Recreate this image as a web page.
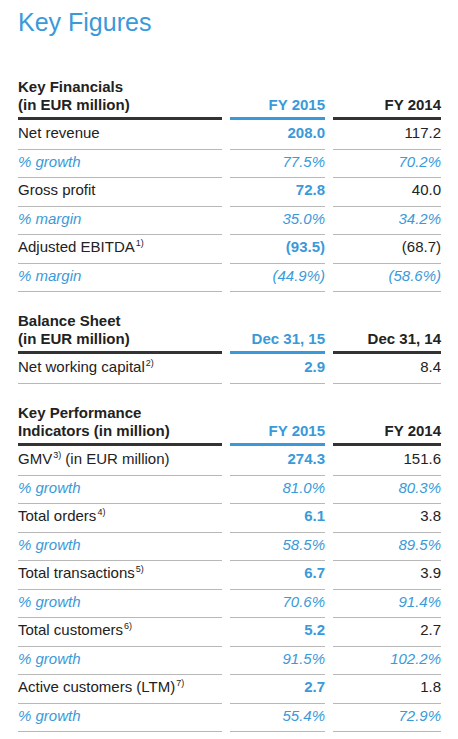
<!DOCTYPE html>
<html><head><meta charset="utf-8">
<script src="https://cdn.jsdelivr.net/npm/chart.js@4.4.1/dist/chart.umd.min.js"></script>
<style>
body{margin:0;background:#fff;font-family:"Liberation Sans",Arial,sans-serif;color:#222;}
#wrap{position:relative;width:458px;height:739px;}
.t{position:absolute;left:18px;top:8px;font-size:25px;color:#3a9ad9;}
.c{position:absolute;font-size:15px;white-space:nowrap;line-height:18px;height:18px;}
.b{font-weight:bold;}
.i{font-style:italic;color:#3a9ad9;}
.blue{color:#3a9ad9;}
.ln{position:absolute;height:1px;background:#b8b8b8;}
sup{font-size:9px;line-height:0;vertical-align:baseline;position:relative;top:-6px;margin-left:1px;}
</style></head><body>
<div id="wrap"><div class="t">Key Figures</div></div>
<script>
const sections = [
  { title: ['Key Financials', '(in EUR million)'], cols: ['FY 2015', 'FY 2014'], top: 78 },
  { title: ['Balance Sheet', '(in EUR million)'], cols: ['Dec 31, 15', 'Dec 31, 14'], top: 312 },
  { title: ['Key Performance', 'Indicators (in million)'], cols: ['FY 2015', 'FY 2014'], top: 404 }
];
const rowLabels = [
  ['Net revenue', '% growth', 'Gross profit', '% margin', 'Adjusted EBITDA', '% margin'],
  ['Net working capital'],
  ['GMV', '% growth', 'Total orders', '% growth', 'Total transactions', '% growth', 'Total customers', '% growth', 'Active customers (LTM)', '% growth']
];
const footnotes = [
  ['', '', '', '', '1)', ''],
  ['2)'],
  ['3)', '', '4)', '', '5)', '', '6)', '', '7)', '']
];
const fy2015 = [
  ['208.0', '77.5%', '72.8', '35.0%', '(93.5)', '(44.9%)'],
  ['2.9'],
  ['274.3', '81.0%', '6.1', '58.5%', '6.7', '70.6%', '5.2', '91.5%', '2.7', '55.4%']
];
const fy2014 = [
  ['117.2', '70.2%', '40.0', '34.2%', '(68.7)', '(58.6%)'],
  ['8.4'],
  ['151.6', '80.3%', '3.8', '89.5%', '3.9', '91.4%', '2.7', '102.2%', '1.8', '72.9%']
];

const wrap = document.getElementById('wrap');
const ROW = 28.5;
const segs = [[18, 222], [230, 325], [333, 441]];
function add(cls, html, x, y, right){
  const d = document.createElement('div');
  d.className = 'c ' + cls;
  d.innerHTML = html;
  d.style.top = y + 'px';
  if (right) d.style.right = (458 - x) + 'px'; else d.style.left = x + 'px';
  wrap.appendChild(d);
}
function line(x1, x2, y, h, color){
  const d = document.createElement('div');
  d.className = 'ln';
  Object.assign(d.style, { left: x1 + 'px', width: (x2 - x1) + 'px', top: y + 'px', height: h + 'px' });
  if (color) d.style.background = color;
  wrap.appendChild(d);
}
sections.forEach((s, si) => {
  add('b', s.title[0], 18, s.top);
  add('b', s.title[1], 18, s.top + 18);
  add('b blue', s.cols[0], 325, s.top + 18, true);
  add('b', s.cols[1], 441, s.top + 18, true);
  const ly = s.top + 39;
  line(18, 222, ly, 3, '#333');
  line(230, 325, ly, 3, '#3a9ad9');
  line(333, 441, ly, 3, '#333');
  rowLabels[si].forEach((lab, ri) => {
    const y = ly + 7 + ri * ROW;
    const it = lab.startsWith('%');
    const fn = footnotes[si][ri] ? `<sup>${footnotes[si][ri]}</sup>` : '';
    const name = si === 2 && ri === 0 ? `GMV<sup>3)</sup> (in EUR million)` : lab + fn;
    add(it ? 'i' : '', name, 18, y);
    add(it ? 'i' : 'b blue', fy2015[si][ri], 325, y, true);
    add(it ? 'i' : '', fy2014[si][ri], 441, y, true);
    segs.forEach(g => line(g[0], g[1], ly + 3 + (ri + 1) * ROW, 1));
  });
});
</script>
</body></html>
